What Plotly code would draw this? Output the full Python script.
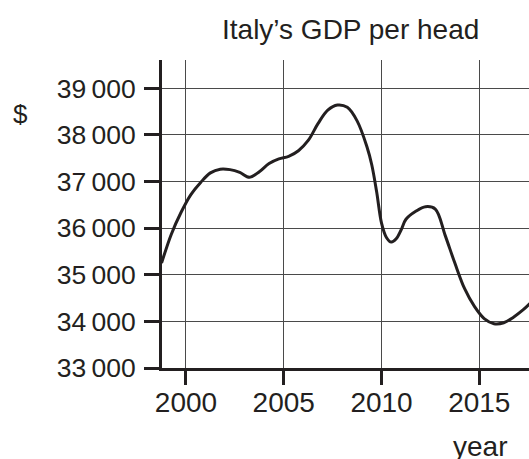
import plotly.graph_objects as go

# Data (year, GDP per head in $)
years = [1998.75, 1999.25, 1999.75, 2000.25, 2000.75, 2001.25, 2001.75, 2002.25,
         2002.75, 2003.25, 2003.75, 2004.25, 2004.75, 2005.25, 2005.75, 2006.25,
         2006.75, 2007.25, 2007.75, 2008.25, 2008.75, 2009.25, 2009.5, 2009.75,
         2010.0, 2010.25, 2010.5, 2010.75, 2011.0, 2011.25, 2011.75, 2012.25,
         2012.75, 2013.25, 2013.75, 2014.25, 2014.75, 2015.25, 2015.75, 2016.25,
         2016.75, 2017.25, 2017.75]
gdp = [35250, 35870, 36340, 36720, 36980, 37185, 37265, 37255,
       37195, 37090, 37210, 37385, 37485, 37540, 37660, 37880,
       38240, 38530, 38640, 38590, 38300, 37750, 37360, 36780,
       36107, 35800, 35700, 35770, 35960, 36190, 36360, 36460,
       36410, 35850, 35250, 34700, 34320, 34060, 33950, 33970,
       34090, 34250, 34450]

x_ticks = [2000, 2005, 2010, 2015]
x_labels = ["2000", "2005", "2010", "2015"]
y_ticks = [33000, 34000, 35000, 36000, 37000, 38000, 39000]
y_labels = ["33\u2009000", "34\u2009000", "35\u2009000", "36\u2009000",
            "37\u2009000", "38\u2009000", "39\u2009000"]

INK = "#231f20"
FONT = "Liberation Sans, Arial, sans-serif"
W, H = 529, 459
L, R, T, B = 162, 0, 60, 90.5

def px_to_paper(px, py):
    return (px - L) / (W - L - R), (H - B - py) / (H - T - B)

fig = go.Figure()
fig.add_trace(go.Scatter(
    x=years, y=gdp, mode="lines",
    line=dict(color=INK, width=3, shape="spline", smoothing=1.0),
    hoverinfo="skip", showlegend=False,
))

fig.update_xaxes(
    range=[1998.773, 2017.542], tickvals=x_ticks, ticktext=x_labels,
    showgrid=True, gridcolor="#4a4a4a", gridwidth=1,
    showline=True, linecolor=INK, linewidth=3,
    ticks="outside", ticklen=14, tickwidth=3, tickcolor=INK,
    tickfont=dict(family=FONT, size=28, color=INK),
    ticklabelstandoff=-7,
    zeroline=False,
)
fig.update_yaxes(
    range=[33000, 39606], tickvals=y_ticks, ticktext=y_labels,
    showgrid=True, gridcolor="#4a4a4a", gridwidth=1,
    showline=True, linecolor=INK, linewidth=3,
    ticks="outside", ticklen=15, tickwidth=3, tickcolor=INK,
    tickfont=dict(family=FONT, size=26.5, color=INK),
    ticklabelstandoff=3,
    zeroline=False,
)

tx, ty = px_to_paper(350.5, 29.5)
dx, dy = px_to_paper(20, 114)
yx, yy = px_to_paper(480, 447)
fig.update_layout(
    width=W, height=H,
    margin=dict(l=L, r=R, t=T, b=B, pad=0),
    paper_bgcolor="white", plot_bgcolor="white",
    font=dict(family=FONT, color=INK),
    annotations=[
        dict(text="Italy\u2019s GDP per head", x=tx, y=ty, xref="paper", yref="paper",
             xanchor="center", yanchor="middle", showarrow=False,
             font=dict(family=FONT, size=28, color=INK)),
        dict(text="$", x=dx, y=dy, xref="paper", yref="paper",
             xanchor="center", yanchor="middle", showarrow=False,
             font=dict(family=FONT, size=26, color=INK)),
        dict(text="year", x=yx, y=yy, xref="paper", yref="paper",
             xanchor="center", yanchor="middle", showarrow=False,
             font=dict(family=FONT, size=28, color=INK)),
    ],
)

fig.write_html(
    "out.html",
    config={"displayModeBar": False},
    post_script="document.body.style.margin='0';document.body.style.overflow='hidden';",
)
